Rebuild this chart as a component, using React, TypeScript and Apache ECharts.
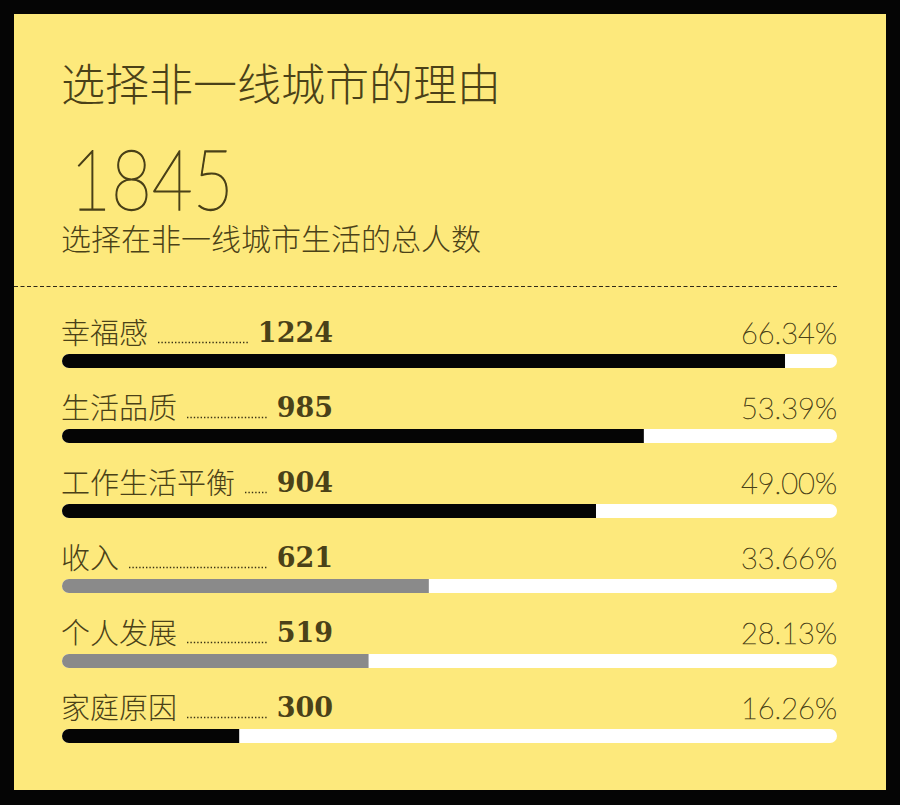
import { useEffect, useRef } from 'react';
import * as echarts from 'echarts';

// data
const total = 1845;
const reasons = ['幸福感', '生活品质', '工作生活平衡', '收入', '个人发展', '家庭原因'];
const counts = [1224, 985, 904, 621, 519, 300];
const shares = ['66.34%', '53.39%', '49.00%', '33.66%', '28.13%', '16.26%'];

const barColors = ['#050505', '#050505', '#050505', '#8a8a8a', '#8a8a8a', '#050505'];
const ink = '#4a4118';
const yellow = '#fde97c';

const cjk = '"Noto Sans CJK SC", "Noto Sans", sans-serif';
const thin = 'Lato, "DejaVu Sans", sans-serif';
const slab = '"DejaVu Serif", "Liberation Serif", serif';

const labelFont = `300 29px ${cjk}`;
const numFont = `bold 27px ${slab}`;

let measureCtx: CanvasRenderingContext2D | null = null;
const measure = (text: string, font: string) => {
  if (!measureCtx) measureCtx = document.createElement('canvas').getContext('2d');
  if (!measureCtx) return text.length * 14;
  measureCtx.font = font;
  return measureCtx.measureText(text).width;
};

const App = () => {
  const chartRef = useRef<HTMLDivElement>(null);

  useEffect(() => {
    if (!chartRef.current) return;
    const chart = echarts.init(chartRef.current, undefined, { renderer: 'svg' });

    const option = {
      animation: false,
      backgroundColor: '#050505',
      graphic: [
        {
          type: 'rect',
          z: -10,
          shape: { x: 14, y: 14, width: 872, height: 776 },
          style: { fill: yellow },
        },
        {
          type: 'text',
          left: 61,
          top: 60,
          style: { text: '选择非一线城市的理由', font: `300 44px ${cjk}`, fill: ink },
        },
        {
          type: 'text',
          x: 70,
          y: 220,
          scaleX: 0.84,
          style: {
            text: String(total),
            font: `100 84px ${thin}`,
            fill: ink,
            stroke: ink,
            lineWidth: 1.3,
            verticalAlign: 'bottom',
          },
        },
        {
          type: 'text',
          left: 61,
          top: 222,
          style: { text: '选择在非一线城市生活的总人数', font: `300 30px ${cjk}`, fill: ink },
        },
        {
          type: 'line',
          shape: { x1: 14, y1: 286.5, x2: 838, y2: 286.5 },
          style: { stroke: '#2e2818', lineWidth: 1, lineDash: [4, 2.5] },
        },
      ],
      grid: { left: 62, right: 63, top: 323.5, bottom: 31.5 },
      xAxis: {
        type: 'value',
        min: 0,
        max: 1312,
        show: false,
      },
      yAxis: {
        type: 'category',
        data: reasons,
        inverse: true,
        show: false,
      },
      series: [
        {
          type: 'bar',
          barWidth: 14,
          showBackground: true,
          backgroundStyle: { color: '#ffffff', borderRadius: 7 },
          data: counts.map((v, i) => ({
            value: v,
            itemStyle: { color: barColors[i], borderRadius: [7, 0, 0, 7] },
          })),
          silent: true,
        },
        {
          type: 'custom',
          clip: false,
          silent: true,
          z: 5,
          data: counts.map((v, i) => [v, i]),
          encode: { x: 0, y: 1 },
          renderItem: (params: any, api: any) => {
            const i = params.dataIndex;
            const cs = params.coordSys;
            const left = cs.x;
            const right = cs.x + cs.width;
            const y = api.coord([0, i])[1];
            const ty = y - 30;
            const name = reasons[i];
            const num = String(counts[i]);
            const numRight = left + 271;
            const nameW = measure(name, labelFont);
            const numW = measure(num, numFont);
            return {
              type: 'group',
              children: [
                {
                  type: 'text',
                  style: {
                    text: name,
                    x: left - 1,
                    y: ty,
                    font: labelFont,
                    fill: ink,
                    verticalAlign: 'middle',
                  },
                },
                {
                  type: 'line',
                  shape: {
                    x1: left + nameW + 9,
                    y1: y - 18.5,
                    x2: numRight - numW - 10,
                    y2: y - 18.5,
                  },
                  style: { stroke: '#3a3214', lineWidth: 1.4, lineDash: [1.4, 2] },
                },
                {
                  type: 'text',
                  style: {
                    text: num,
                    x: numRight,
                    y: ty + 1,
                    font: numFont,
                    fill: ink,
                    align: 'right',
                    verticalAlign: 'middle',
                  },
                },
                {
                  type: 'text',
                  style: {
                    text: shares[i],
                    x: right,
                    y: ty + 1,
                    font: `100 29px ${thin}`,
                    fill: ink,
                    stroke: ink,
                    lineWidth: 0.6,
                    align: 'right',
                    verticalAlign: 'middle',
                  },
                },
              ],
            };
          },
        },
      ],
    };

    chart.setOption(option as any);

    return () => {
      chart.dispose();
    };
  }, []);

  return (
    <div
      ref={chartRef}
      style={{ position: 'absolute', left: 0, top: 0, width: '900px', height: '805px' }}
    />
  );
};

export default App;
